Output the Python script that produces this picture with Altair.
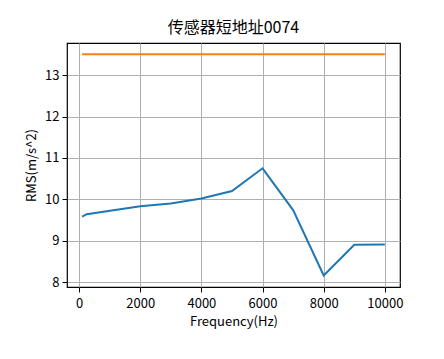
import altair as alt
import pandas as pd

freq_blue = [100, 250, 2000, 3000, 4000, 5000, 6000, 7000, 8000, 9000, 10000]
rms_blue = [9.58, 9.64, 9.83, 9.90, 10.02, 10.20, 10.75, 9.74, 8.16, 8.90, 8.91]
freq_orange = [100, 10000]
rms_orange = [13.51, 13.51]

df = pd.DataFrame(
    {"freq": freq_blue + freq_orange,
     "rms": rms_blue + rms_orange,
     "series": ["measured"] * len(freq_blue) + ["limit"] * len(freq_orange)}
)

FONT = "Noto Sans CJK SC"

chart = (
    alt.Chart(df)
    .mark_line(strokeWidth=2, clip=False)
    .encode(
        x=alt.X("freq:Q",
                scale=alt.Scale(domain=[-395, 10495], nice=False, zero=False),
                axis=alt.Axis(title="Frequency(Hz)", values=[0, 2000, 4000, 6000, 8000, 10000],
                              format="d")),
        y=alt.Y("rms:Q",
                scale=alt.Scale(domain=[7.88, 13.78], nice=False, zero=False),
                axis=alt.Axis(title="RMS(m/s^2)", values=[8, 9, 10, 11, 12, 13])),
        color=alt.Color("series:N",
                        scale=alt.Scale(domain=["measured", "limit"], range=["#1f77b4", "#ff7f0e"]),
                        legend=None),
        detail="series:N",
    )
    .properties(
        width=333, height=244,
        title=alt.TitleParams("传感器短地址0074", font=FONT, fontSize=16, fontWeight="normal",
                              color="black", offset=7, anchor="middle"),
        autosize=alt.AutoSizeParams(type="none"),
        padding={"left": 59, "top": 35, "right": 20, "bottom": 60},
    )
    .configure_view(stroke="black", strokeWidth=1.2)
    .configure_axis(
        labelFont=FONT, titleFont=FONT, labelFontSize=13, titleFontSize=13,
        labelColor="black", titleColor="black", titleFontWeight="normal",
        grid=True, gridColor="#b0b0b0", gridWidth=1,
        tickColor="black", tickSize=5, tickWidth=1, domain=False,
    )
    .configure_axisX(labelPadding=5, titlePadding=5)
    .configure_axisY(labelPadding=3, titlePadding=6)
)

chart.save("out.html", embed_options={"renderer": "svg", "actions": False})
